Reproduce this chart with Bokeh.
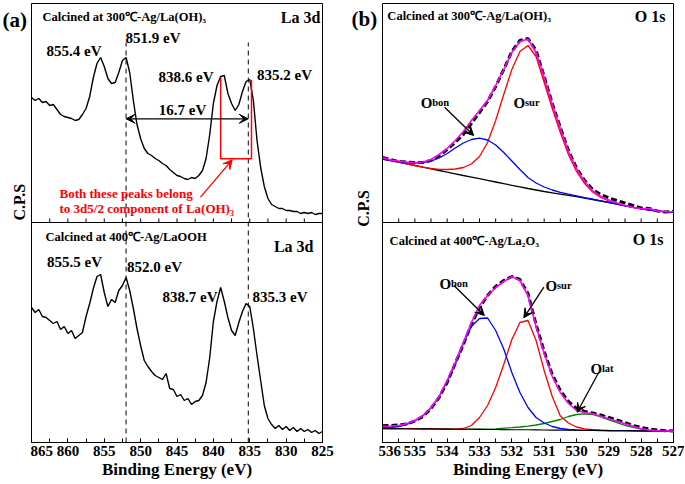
import numpy as np
from bokeh.plotting import figure
from bokeh.models import Range1d, Span, Label, Arrow, VeeHead, SingleIntervalTicker
from bokeh.layouts import row
from bokeh.embed import file_html
from bokeh.resources import INLINE

# ---------------- data (arbitrary intensity units) ----------------
la_energy = [865.0, 864.5, 864.0, 863.5, 863.0, 862.5, 862.0, 861.5, 861.0, 860.5,
             860.0, 859.5, 859.0, 858.5, 858.0, 857.5, 857.0, 856.5, 856.0, 855.5,
             855.0, 854.5, 854.0, 853.5, 853.0, 852.5, 852.0, 851.5, 851.0, 850.5,
             850.0, 849.5, 849.0, 848.5, 848.0, 847.5, 847.0, 846.5, 846.0, 845.5,
             845.0, 844.5, 844.0, 843.5, 843.0, 842.5, 842.0, 841.5, 841.0, 840.5,
             840.0, 839.5, 839.0, 838.5, 838.0, 837.5, 837.0, 836.5, 836.0, 835.5,
             835.0, 834.5, 834.0, 833.5, 833.0, 832.5, 832.0, 831.5, 831.0, 830.5,
             830.0, 829.5, 829.0, 828.5, 828.0, 827.5, 827.0, 826.5, 826.0, 825.5, 825.0]
la300 = [125, 122, 124, 120, 121, 117, 118, 113, 108, 106,
         105, 104, 102, 103, 108, 114, 126, 145, 159, 165,
         156, 144, 139, 140, 150, 162, 165, 150, 122, 98,
         84, 74, 69, 67, 64, 62, 59, 57, 53, 50,
         47, 46, 44, 43, 45, 44, 47, 52, 64, 88,
         119, 137, 146, 147, 129, 119, 112, 118, 131, 141,
         143, 122, 82, 55, 36, 24, 18, 16, 14, 14,
         12, 12, 11, 11, 9, 10, 9, 10, 8, 9, 9]
la400 = [135, 130, 133, 126, 125, 122, 119, 121, 113, 116,
         109, 112, 104, 107, 110, 126, 139, 154, 166, 168,
         150, 136, 143, 140, 152, 157, 165, 152, 134, 114,
         97, 82, 76, 71, 67, 65, 63, 69, 54, 53,
         46, 48, 42, 44, 38, 41, 42, 47, 60, 85,
         121, 141, 155, 141, 125, 112, 107, 120, 131, 139,
         136, 114, 87, 62, 37, 24, 18, 14, 17, 13,
         16, 12, 15, 11, 14, 11, 13, 10, 12, 9, 11]
la300_peaks = [855.4, 851.9, 838.6, 835.2]
la400_peaks = [855.5, 852.0, 838.7, 835.3]
la_dash_lines = [852.0, 835.2]
la_split = 16.7

o_energy = [536.0, 535.75, 535.5, 535.25, 535.0, 534.75, 534.5, 534.25, 534.0, 533.75,
            533.5, 533.25, 533.0, 532.75, 532.5, 532.25, 532.0, 531.75, 531.5, 531.25,
            531.0, 530.75, 530.5, 530.25, 530.0, 529.75, 529.5, 529.25, 529.0, 528.75,
            528.5, 528.25, 528.0, 527.75, 527.5, 527.25, 527.0]
o300_raw = [65, 63, 61, 60.5, 60, 60, 62, 66.5, 73, 80, 88, 99, 110, 121, 136, 153, 171, 182, 184, 172,
            146, 119, 95, 72, 54.5, 42, 33, 28, 24.5, 22, 19.5, 17, 14.5, 14, 11.5, 10.5, 11]
o300_env = [65, 62.5, 61.5, 60.5, 60, 60.5, 63, 68, 74, 82, 91, 102, 112, 122, 137, 153, 170, 181, 183.5, 170,
            145, 118, 94, 71, 53.5, 41, 31.5, 26, 22.5, 19.5, 17, 15, 13.8, 14, 11.5, 10.8, 10.8]
o300_bg = [63.5, 62, 60.3, 58.6, 57, 55.3, 53.7, 52, 50.3, 48.7, 47, 45.4, 43.8, 42.1, 40.5, 38.8, 37.2, 35.6, 34, 32.5,
           31, 29.7, 28.4, 27.1, 25.8, 24.4, 23, 21.5, 20, 18.3, 16.6, 15.1, 13.6, 12.4, 11.4, 10.6, 10.1]
o300_bon = [63.5, 62.2, 60.8, 59.8, 59.5, 59.8, 61.3, 64.5, 69, 74.5, 79.5, 83, 84.3, 82.5, 77.5, 70, 61.5, 53, 45, 39.5,
            35.5, 32.5, 30.2, 28.3, 26.6, 24.9, 23.3, 21.7, 20.1, 18.4, 16.7, 15.2, 13.7, 12.5, 11.5, 10.7, 10.2]
o300_sur = [63.5, 62, 60.3, 58.6, 57, 55.4, 54, 53.2, 53, 53.5, 55, 58.5, 66, 80, 102, 128, 153, 171, 177, 166,
            140, 114, 90, 68, 51, 39, 30.5, 25, 21.5, 19, 16.9, 15.3, 13.8, 12.6, 11.6, 10.8, 10.3]

o400_raw = [16.8, 17, 17.5, 18.5, 21.5, 26, 34, 45, 60, 79, 98, 118, 135, 147, 156, 162, 166, 163, 149, 118,
            91, 68, 52, 41, 34, 31, 29.5, 27.5, 25, 22.5, 20, 17, 15, 13.5, 12.5, 11.8, 11.5]
o400_env = [16.3, 16.5, 17, 19, 22, 27, 35, 46, 62, 80, 100, 120, 137, 147, 155, 161, 166, 162, 147, 116,
            89, 66, 50, 39, 32, 30, 28.7, 26.2, 23.7, 21.2, 18.7, 16.2, 13.8, 12.5, 11.8, 11.5, 11.4]
o400_bg = [14.0, 13.9, 13.9, 13.8, 13.7, 13.6, 13.6, 13.5, 13.4, 13.3, 13.3, 13.2, 13.1, 13.0, 13.0, 12.9, 12.8, 12.7, 12.7, 12.6,
           12.5, 12.4, 12.4, 12.3, 12.2, 12.1, 12.1, 12.0, 11.9, 11.8, 11.8, 11.7, 11.6, 11.5, 11.5, 11.4, 11.3]
o400_bon = [14.5, 15, 16, 18, 21.5, 26.5, 34.5, 45.5, 61, 78, 99, 116, 124, 124.5, 112, 93.5, 70, 50, 35, 25,
            19.5, 16, 14, 13, 12.5, 12.2, 12.1, 12.0, 11.9, 11.8, 11.8, 11.7, 11.6, 11.5, 11.5, 11.4, 11.3]
o400_sur = [14.0, 13.9, 13.9, 13.8, 13.7, 13.6, 13.6, 13.5, 13.4, 13.4, 14.0, 17, 25, 37, 55, 78, 103, 120, 122, 102,
            72, 46, 26.5, 19.5, 15.5, 13.7, 12.8, 12.3, 12.0, 11.8, 11.8, 11.7, 11.6, 11.5, 11.5, 11.4, 11.3]
o400_lat = [14.0, 13.9, 13.9, 13.8, 13.7, 13.6, 13.6, 13.5, 13.5, 13.4, 13.4, 13.4, 13.4, 13.4, 13.6, 14.3, 14.8, 15.5, 16.3, 17.5,
            19, 21, 23, 26, 28, 28.7, 28, 25.5, 22.7, 19.8, 17.2, 15.2, 13.3, 12.3, 11.8, 11.5, 11.3]

SERIF = "Liberation Serif"
H = 484


def base_fig(x_start, x_end, width, left, right, interval):
    p = figure(width=width, height=H, x_range=Range1d(x_start, x_end),
               y_range=Range1d(0, 439), y_axis_type=None, output_backend="svg",
               toolbar_location=None, min_border_left=left, min_border_right=right,
               min_border_top=3, min_border_bottom=42)
    p.extra_y_ranges = {"upper": Range1d(-220, 219)}
    p.xgrid.visible = False
    p.outline_line_color = "black"
    p.outline_line_alpha = 1.0
    p.outline_line_width = 1
    p.background_fill_color = "white"
    p.border_fill_color = "white"
    xa = p.xaxis[0]
    xa.ticker = SingleIntervalTicker(interval=interval, num_minor_ticks=2)
    xa.major_tick_in = 4
    xa.major_tick_out = 0
    xa.minor_tick_in = 4
    xa.minor_tick_out = 0
    xa.major_tick_line_color = "black"
    xa.minor_tick_line_color = "black"
    xa.axis_line_color = "black"
    xa.major_label_text_font = SERIF
    xa.major_label_text_font_size = "15px"
    xa.major_label_text_font_style = "bold"
    xa.major_label_text_color = "black"
    xa.major_label_standoff = 3
    xa.axis_label = "Binding Energy (eV)"
    xa.axis_label_text_font = SERIF
    xa.axis_label_text_font_size = "17px"
    xa.axis_label_text_font_style = "bold"
    xa.axis_label_text_color = "black"
    xa.axis_label_standoff = 1
    p.add_layout(Span(location=220, dimension="width", line_color="black", line_width=1))
    return p


def side_fig(width, tag, tag_x, tag_y, cps_x, cps_y):
    s = figure(width=width, height=H, x_range=Range1d(0, width), y_range=Range1d(H, 0),
               x_axis_type=None, y_axis_type=None, output_backend="svg",
               toolbar_location=None, min_border=0)
    s.grid.visible = False
    s.outline_line_color = None
    s.background_fill_color = "white"
    s.border_fill_color = "white"
    s.add_layout(Label(x=tag_x, y=tag_y, text=tag, text_font=SERIF, text_font_size="21px",
                       text_font_style="bold", text_color="black", text_align="left",
                       text_baseline="middle"))
    s.add_layout(Label(x=cps_x, y=cps_y, text="C.P.S", angle=np.pi / 2, text_font=SERIF,
                       text_font_size="16px", text_font_style="bold", text_color="black",
                       text_align="center", text_baseline="middle"))
    return s


def label(p, x, y, text, size, rng=None, align="left", baseline="middle", color="black", x_offset=0):
    kw = dict(x=x, y=y, text=text, text_font=SERIF, text_font_size=size, text_font_style="bold",
              text_color=color, text_align=align, text_baseline=baseline, x_offset=x_offset)
    if rng:
        kw["y_range_name"] = rng
    p.add_layout(Label(**kw))


def arrow(p, x0, y0, x1, y1, rng=None, color="black", both=False):
    kw = dict(x_start=x0, y_start=y0, x_end=x1, y_end=y1, line_color=color, line_width=1.3,
              end=VeeHead(size=9, fill_color=color, line_color=color, line_width=1))
    if both:
        kw["start"] = VeeHead(size=9, fill_color=color, line_color=color, line_width=1)
    if rng:
        kw["y_range_name"] = rng
    p.add_layout(Arrow(**kw))


def o_label(p, x, y, sub, rng=None):
    label(p, x, y, "O", "15px", rng=rng, baseline="alphabetic")
    label(p, x, y, sub, "10.5px", rng=rng, baseline="alphabetic", x_offset=11.5)


# ---------------- panel (a): La 3d ----------------
sa = side_fig(30, "(a)", 2, 18, 19, 219)
pa = base_fig(865, 825, 310, 1, 18, 5)
sep_a = np.arange(825 + 2.5, 865, 2.5)
pa.segment(x0=sep_a, y0=220, x1=sep_a, y1=224, line_color="black", line_width=1)
pa.segment(x0=la_dash_lines, y0=-220, x1=la_dash_lines, y1=180, y_range_name="upper",
           line_color="black", line_width=1, line_dash="5 4")
pa.line(la_energy, la300, y_range_name="upper", line_color="black", line_width=1.4)
pa.line(la_energy, la400, line_color="black", line_width=1.4)

label(pa, 863.5, 205.3, "Calcined at 300℃-Ag/La(OH)₃", "12.5px", rng="upper")
label(pa, 825.3, 205, "La 3d", "16px", rng="upper", align="right")
for e, (x, y) in zip(la300_peaks, [(859.16, 172), (848.3, 184.5), (843.76, 146), (830.22, 148)]):
    label(pa, x, y, f"{e:.1f} eV", "15px", rng="upper", align="center")
label(pa, 844.24, 113, f"{la_split:.1f} eV", "15px", rng="upper", align="center")
arrow(pa, la_dash_lines[0], 103.7, la_dash_lines[1], 103.7, rng="upper", both=True)
pa.line([839.0, 839.0, 834.76, 834.76], [145.3, 63.7, 63.7, 142.7], y_range_name="upper",
        line_color="red", line_width=1.5)
arrow(pa, 841.77, 25.3, 837.41, 62.7, rng="upper", color="red")
label(pa, 861.15, 29.5, "Both these peaks belong", "13px", rng="upper", color="red")
label(pa, 861.15, 14, "to 3d5/2 component of La(OH)₃", "13px", rng="upper", color="red")

label(pa, 863.08, 205.3, "Calcined at 400℃-Ag/LaOOH", "12.5px")
label(pa, 826.24, 196, "La 3d", "16px", align="right")
for e, (x, y) in zip(la400_peaks, [(859.09, 181), (848.09, 176), (843.21, 146), (830.84, 146)]):
    label(pa, x, y, f"{e:.1f} eV", "15px", align="center")

# ---------------- panel (b): O 1s ----------------
sb = side_fig(38, "(b)", 11, 17, 22.5, 226)
pb = base_fig(536, 527, 306, 4, 11, 1)
sep_b = np.arange(527 + 0.5, 536, 0.5)
pb.segment(x0=sep_b, y0=220, x1=sep_b, y1=224, line_color="black", line_width=1)

# upper: 300 C
pb.line(o_energy, o300_raw, y_range_name="upper", line_color="black", line_width=3, line_dash="6 3")
pb.line(o_energy, o300_bg, y_range_name="upper", line_color="black", line_width=1.3)
pb.line(o_energy, o300_sur, y_range_name="upper", line_color="red", line_width=1.3)
pb.line(o_energy, o300_bon, y_range_name="upper", line_color="blue", line_width=1.3)
pb.line(o_energy, o300_env, y_range_name="upper", line_color="#ff00ff", line_width=1.6)
# lower: 400 C
pb.line(o_energy, o400_raw, line_color="black", line_width=3, line_dash="6 3")
pb.line(o_energy, o400_lat, line_color="green", line_width=1.3)
pb.line(o_energy, o400_sur, line_color="red", line_width=1.3)
pb.line(o_energy, o400_bon, line_color="blue", line_width=1.3)
pb.line(o_energy, o400_bg, line_color="black", line_width=1.1)
pb.line(o_energy, o400_env, line_color="#ff00ff", line_width=1.6)

label(pb, 535.85, 207, "Calcined at 300℃-Ag/La(OH)₃", "12.5px", rng="upper")
label(pb, 527.25, 206, "O 1s", "16px", rng="upper", align="right")
o_label(pb, 534.82, 120, "bon", rng="upper")
o_label(pb, 531.95, 120, "sur", rng="upper")
arrow(pb, 534.08, 115.3, 533.18, 87, rng="upper")

label(pb, 535.78, 202, "Calcined at 400℃-Ag/La₂O₃", "12.5px")
label(pb, 527.31, 203, "O 1s", "16px", align="right")
o_label(pb, 534.24, 159, "bon")
arrow(pb, 533.79, 157, 532.85, 127)
o_label(pb, 530.96, 157, "sur")
arrow(pb, 531.01, 155.3, 531.63, 124.7)
o_label(pb, 529.57, 74, "lat")
arrow(pb, 529.31, 70.3, 529.98, 30.3)

layout = row(sa, pa, sb, pb)
open("out.html", "w").write(file_html(layout, INLINE))
